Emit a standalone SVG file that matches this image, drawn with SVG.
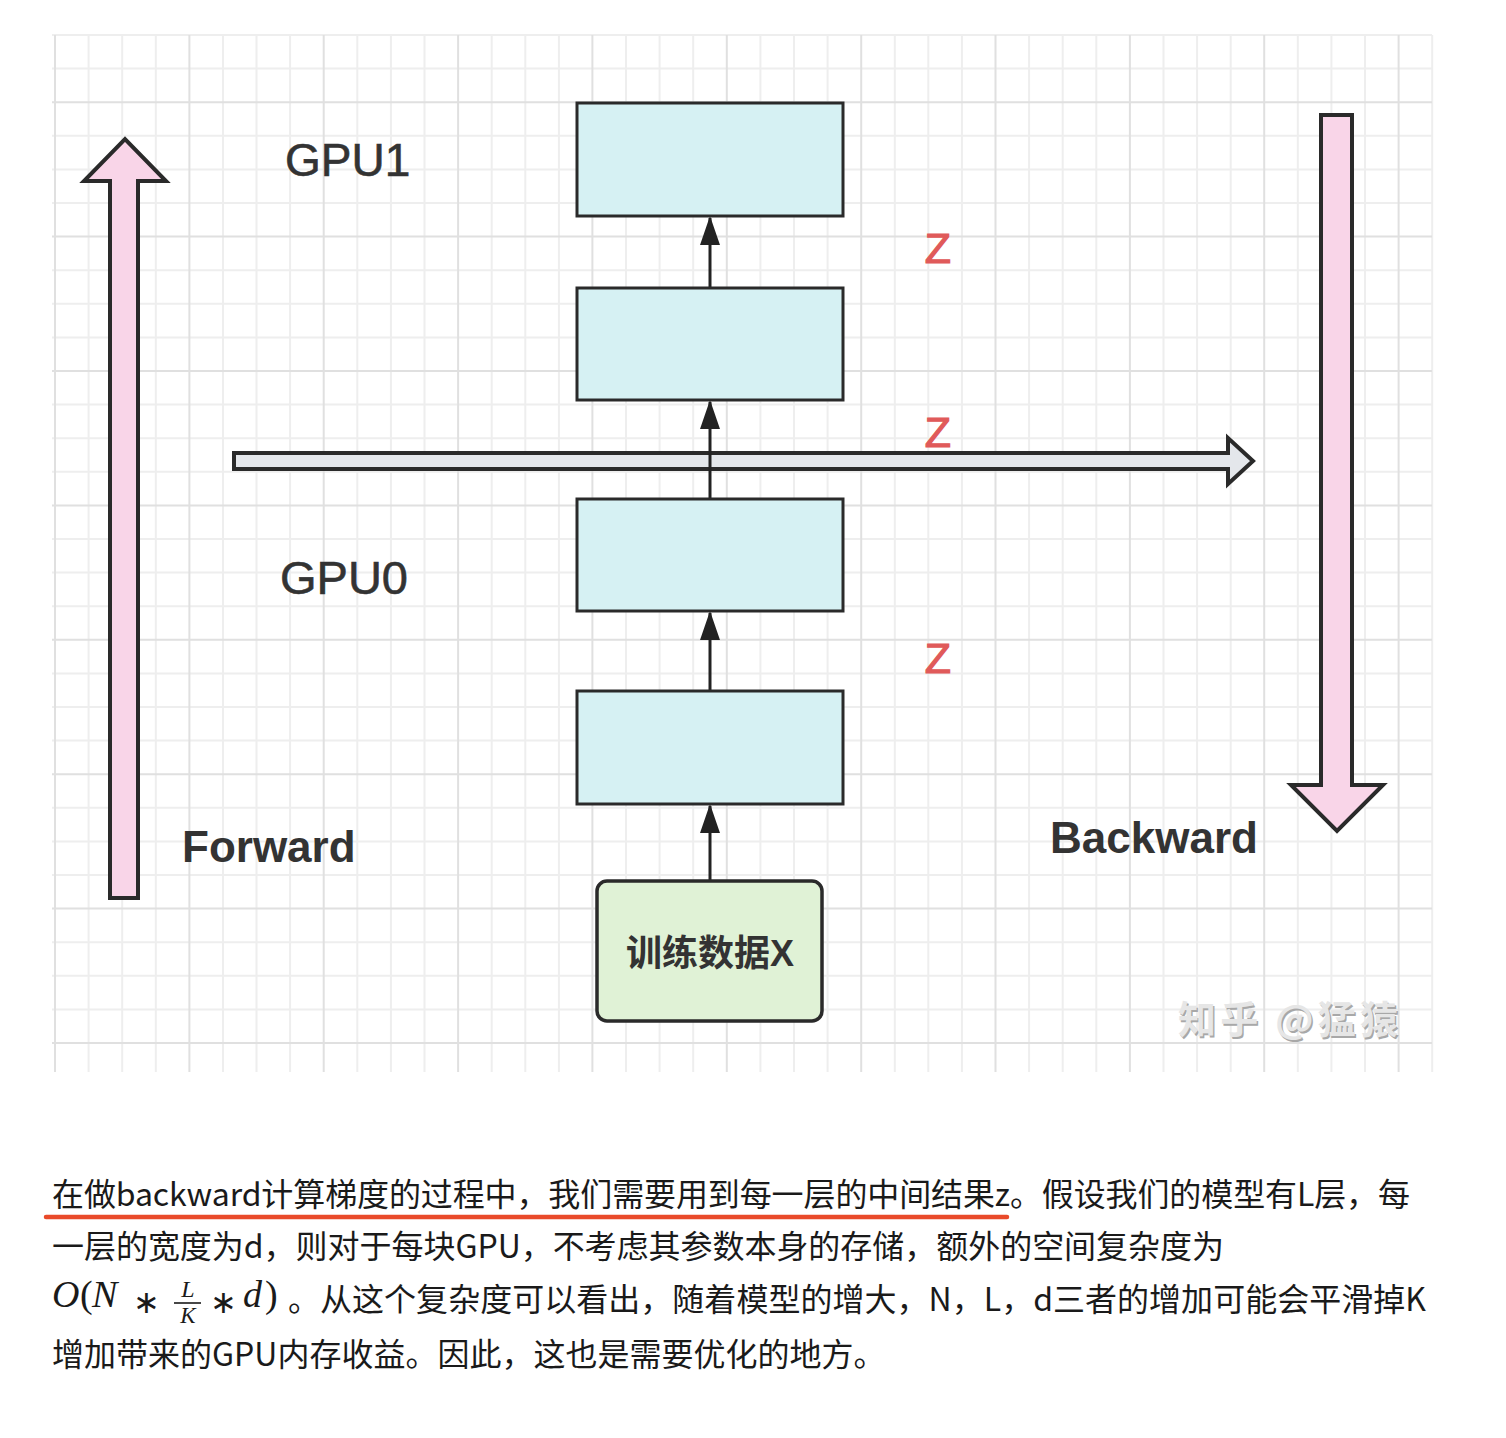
<svg xmlns="http://www.w3.org/2000/svg" width="1506" height="1438" viewBox="0 0 1506 1438">
<defs>
<style>
.gmin{stroke:#eeeeee;stroke-width:2;fill:none}
.gmaj{stroke:#e0e0e0;stroke-width:2;fill:none}
.box{fill:#d6f1f3;stroke:#2a2a2a;stroke-width:3}
.gbox{fill:#e0f2d6;stroke:#2a2a2a;stroke-width:3.5}
.big{stroke:#2a2a2a;stroke-width:4;stroke-linejoin:miter}
.pink{fill:#f9d5e8}
.grey{fill:#e4e7eb}
.conn{stroke:#222;stroke-width:3;fill:none}
.lbl{font-family:"Liberation Sans",Arial,sans-serif;fill:#333}
.z{font-family:"Liberation Sans",Arial,sans-serif;fill:#e05a5a;stroke:#e05a5a;stroke-width:1.2;font-size:43px}
.cjk{font-family:"Liberation Sans","Noto Sans CJK SC",sans-serif}
.body{font-family:"Noto Sans CJK SC",sans-serif;font-size:32px;fill:#1a1a1a}
.math{font-family:"Liberation Serif","Times New Roman",serif;fill:#1a1a1a}
</style>
<marker id="ah" markerWidth="29" markerHeight="20" refX="27" refY="10" orient="auto" markerUnits="userSpaceOnUse" viewBox="0 0 29 20">
<path d="M0,0 L29,10 L0,20 Z" fill="#222"/>
</marker>
</defs>
<rect width="1506" height="1438" fill="#ffffff"/>
<g id="grid">
<path class="gmin" d="M88.6 35V1072M122.2 35V1072M155.8 35V1072M223 35V1072M256.5 35V1072M290.1 35V1072M357.3 35V1072M390.9 35V1072M424.5 35V1072M491.7 35V1072M525.3 35V1072M558.9 35V1072M626 35V1072M659.6 35V1072M693.2 35V1072M760.4 35V1072M794 35V1072M827.6 35V1072M894.8 35V1072M928.3 35V1072M961.9 35V1072M1029.1 35V1072M1062.7 35V1072M1096.3 35V1072M1163.5 35V1072M1197.1 35V1072M1230.7 35V1072M1297.8 35V1072M1331.4 35V1072M1365 35V1072M1432.2 35V1072"/>
<path class="gmin" d="M52 35H1432M52 68.6H1432M52 135.8H1432M52 169.4H1432M52 203H1432M52 270.2H1432M52 303.8H1432M52 337.4H1432M52 404.6H1432M52 438.2H1432M52 471.8H1432M52 539H1432M52 572.6H1432M52 606.2H1432M52 673.4H1432M52 707H1432M52 740.6H1432M52 807.8H1432M52 841.4H1432M52 875H1432M52 942.2H1432M52 975.8H1432M52 1009.4H1432"/>
<path class="gmaj" d="M55 35V1072M189.4 35V1072M323.7 35V1072M458.1 35V1072M592.4 35V1072M726.8 35V1072M861.2 35V1072M995.5 35V1072M1129.9 35V1072M1264.2 35V1072M1398.6 35V1072"/>
<path class="gmaj" d="M52 102.2H1432M52 236.6H1432M52 371H1432M52 505.4H1432M52 639.8H1432M52 774.2H1432M52 908.6H1432M52 1043H1432"/>
</g>
<g id="forward-arrow">
<polygon class="big pink" points="110,898 110,181 84,181 125,139 166,181 138,181 138,898"/>
</g>
<g id="backward-arrow">
<polygon class="big pink" points="1321,115 1352,115 1352,785 1383,785 1337,831 1291,785 1321,785"/>
</g>
<g id="z-flow-arrow">
<polygon class="big grey" points="234,453 1228,453 1228,438 1253,461 1228,484 1228,469 234,469"/>
</g>
<g id="connectors">
<line class="conn" x1="710" y1="881" x2="710" y2="806" marker-end="url(#ah)"/>
<line class="conn" x1="710" y1="691" x2="710" y2="613" marker-end="url(#ah)"/>
<line class="conn" x1="710" y1="499" x2="710" y2="402" marker-end="url(#ah)"/>
<line class="conn" x1="710" y1="288" x2="710" y2="218" marker-end="url(#ah)"/>
</g>
<g id="layer4"><rect class="box" x="577" y="103" width="266" height="113"/></g>
<g id="layer3"><rect class="box" x="577" y="288" width="266" height="112"/></g>
<g id="layer2"><rect class="box" x="577" y="499" width="266" height="112"/></g>
<g id="layer1"><rect class="box" x="577" y="691" width="266" height="113"/></g>
<g id="input-x">
<rect class="gbox" x="597" y="881" width="225" height="140" rx="10"/>
<text class="cjk" x="710" y="966" font-size="36" font-weight="bold" fill="#333" text-anchor="middle">训练数据X</text>
</g>
<g id="labels">
<text class="lbl" x="285" y="176" font-size="46" stroke="#333" stroke-width="0.6">GPU1</text>
<text class="lbl" x="280" y="594" font-size="47" stroke="#333" stroke-width="0.6">GPU0</text>
<text class="lbl" x="182" y="862" font-size="44" font-weight="bold">Forward</text>
<text class="lbl" x="1050" y="853" font-size="44" font-weight="bold">Backward</text>
<text class="z" x="938" y="263" text-anchor="middle">Z</text>
<text class="z" x="938" y="447" text-anchor="middle">Z</text>
<text class="z" x="938" y="673" text-anchor="middle">Z</text>
</g>
<g id="watermark" font-family="'Noto Sans CJK SC',sans-serif" font-size="38" font-weight="bold">
<text x="1179.5" y="1034.5" fill="#a8a8a8" textLength="220">知乎 @猛猿</text>
<text x="1178" y="1033" fill="#e6e6e6" textLength="220">知乎 @猛猿</text>
</g>
<g id="caption">
<line x1="46" y1="1217" x2="1007" y2="1217" stroke="#e94a2a" stroke-width="4.5" stroke-linecap="round"/>
<text class="body" x="52" y="1206" textLength="1358" lengthAdjust="spacing">在做backward计算梯度的过程中，我们需要用到每一层的中间结果z。假设我们的模型有L层，每</text>
<text class="body" x="52" y="1258" textLength="1172" lengthAdjust="spacing">一层的宽度为d，则对于每块GPU，不考虑其参数本身的存储，额外的空间复杂度为</text>
<text class="math" x="52" y="1307" font-size="38" font-style="italic">O</text>
<text class="math" x="80" y="1307" font-size="38">(</text>
<text class="math" x="92" y="1307" font-size="38" font-style="italic">N</text>
<text class="math" x="146" y="1313" font-size="32" text-anchor="middle">∗</text>
<text class="math" x="188" y="1297" font-size="24" font-style="italic" text-anchor="middle">L</text>
<line x1="174" y1="1303" x2="201" y2="1303" stroke="#1a1a1a" stroke-width="1.6"/>
<text class="math" x="188" y="1323" font-size="23" font-style="italic" text-anchor="middle">K</text>
<text class="math" x="223" y="1313" font-size="32" text-anchor="middle">∗</text>
<text class="math" x="243" y="1307" font-size="38" font-style="italic">d</text>
<text class="math" x="265" y="1307" font-size="38">)</text>
<text class="body" x="288" y="1311" textLength="1138" lengthAdjust="spacing">。从这个复杂度可以看出，随着模型的增大，N，L，d三者的增加可能会平滑掉K</text>
<text class="body" x="52" y="1366">增加带来的GPU内存收益。因此，这也是需要优化的地方。</text>
</g>
</svg>
